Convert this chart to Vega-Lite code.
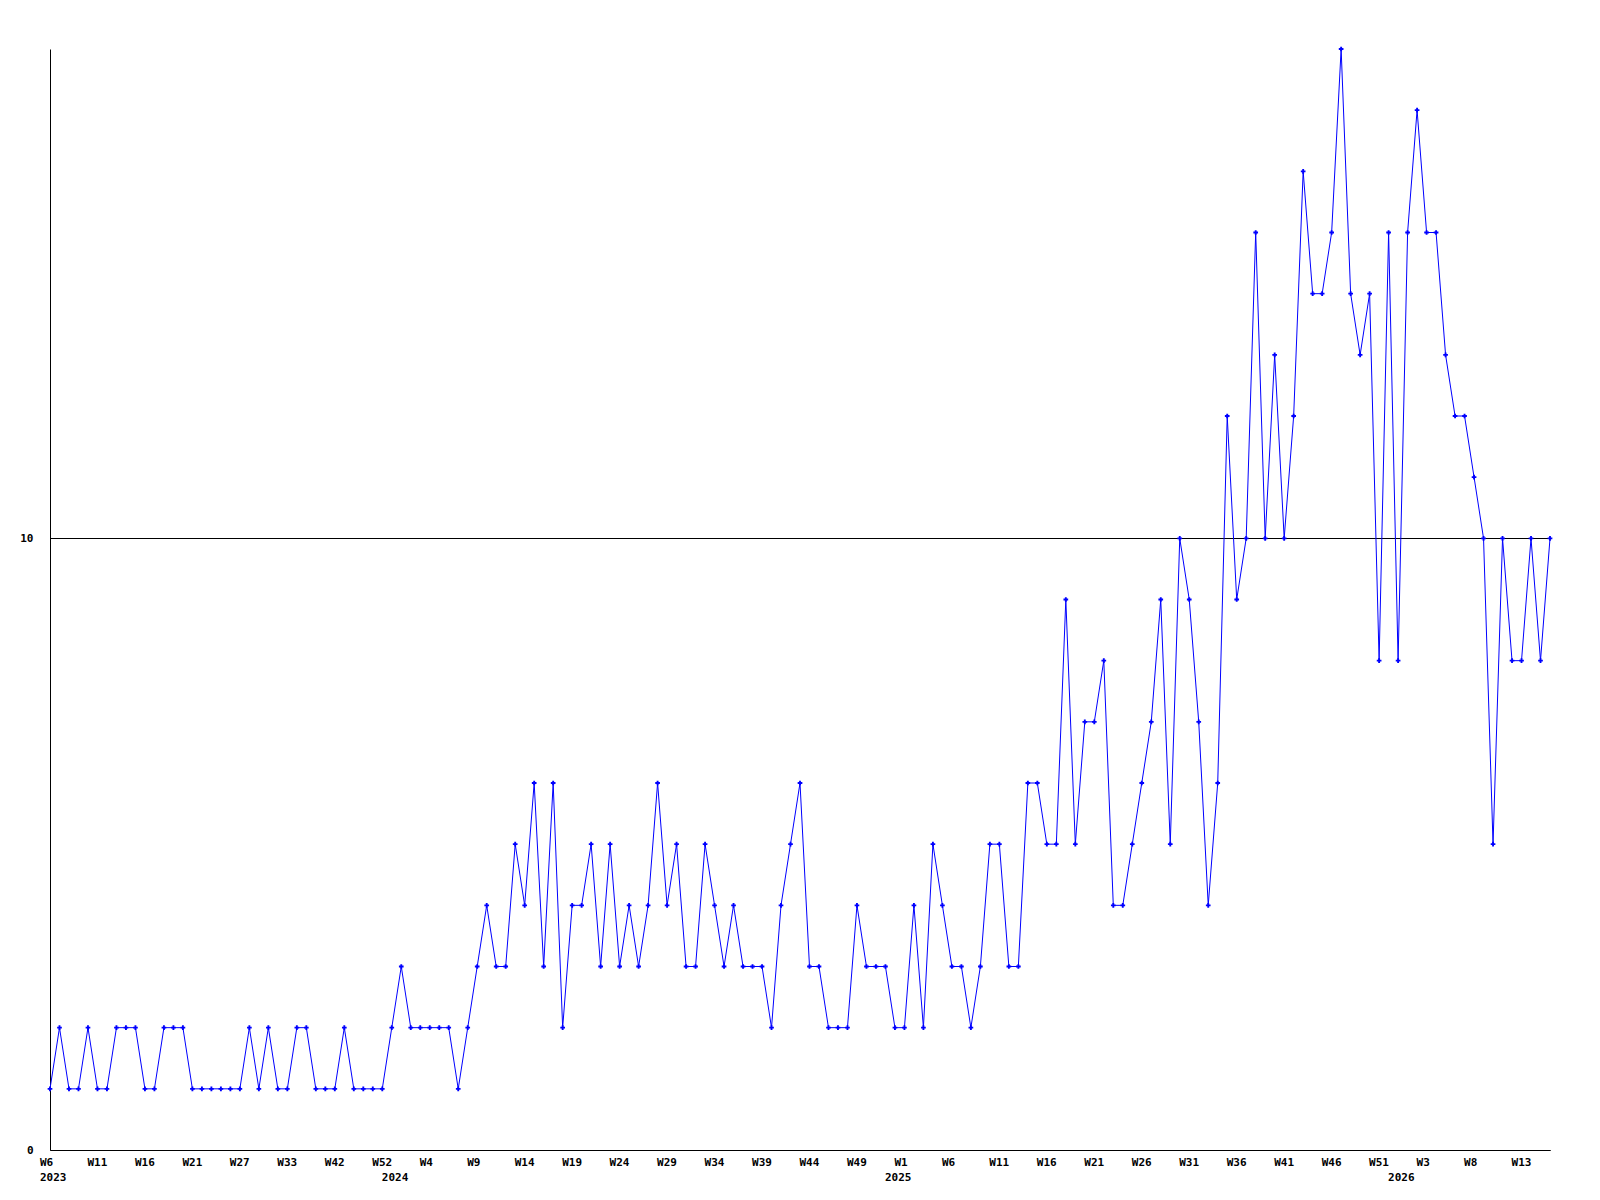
{
  "$schema": "https://vega.github.io/schema/vega-lite/v6.json",
  "width": 1500,
  "height": 1101,
  "autosize": {"type": "none"},
  "padding": {"left": 50, "top": 49, "right": 50, "bottom": 50},
  "background": "white",
  "config": {
    "view": {"stroke": null},
    "axis": {"labelFont": "DejaVu Sans Mono", "labelFontWeight": "bold", "labelFontSize": 11, "labelColor": "black", "domainColor": "black", "domainWidth": 1}
  },
  "data": {"values": [
    {"i":0,"v":1},{"i":1,"v":2},{"i":2,"v":1},{"i":3,"v":1},{"i":4,"v":2},{"i":5,"v":1},{"i":6,"v":1},{"i":7,"v":2},{"i":8,"v":2},{"i":9,"v":2},
    {"i":10,"v":1},{"i":11,"v":1},{"i":12,"v":2},{"i":13,"v":2},{"i":14,"v":2},{"i":15,"v":1},{"i":16,"v":1},{"i":17,"v":1},{"i":18,"v":1},{"i":19,"v":1},
    {"i":20,"v":1},{"i":21,"v":2},{"i":22,"v":1},{"i":23,"v":2},{"i":24,"v":1},{"i":25,"v":1},{"i":26,"v":2},{"i":27,"v":2},{"i":28,"v":1},{"i":29,"v":1},
    {"i":30,"v":1},{"i":31,"v":2},{"i":32,"v":1},{"i":33,"v":1},{"i":34,"v":1},{"i":35,"v":1},{"i":36,"v":2},{"i":37,"v":3},{"i":38,"v":2},{"i":39,"v":2},
    {"i":40,"v":2},{"i":41,"v":2},{"i":42,"v":2},{"i":43,"v":1},{"i":44,"v":2},{"i":45,"v":3},{"i":46,"v":4},{"i":47,"v":3},{"i":48,"v":3},{"i":49,"v":5},
    {"i":50,"v":4},{"i":51,"v":6},{"i":52,"v":3},{"i":53,"v":6},{"i":54,"v":2},{"i":55,"v":4},{"i":56,"v":4},{"i":57,"v":5},{"i":58,"v":3},{"i":59,"v":5},
    {"i":60,"v":3},{"i":61,"v":4},{"i":62,"v":3},{"i":63,"v":4},{"i":64,"v":6},{"i":65,"v":4},{"i":66,"v":5},{"i":67,"v":3},{"i":68,"v":3},{"i":69,"v":5},
    {"i":70,"v":4},{"i":71,"v":3},{"i":72,"v":4},{"i":73,"v":3},{"i":74,"v":3},{"i":75,"v":3},{"i":76,"v":2},{"i":77,"v":4},{"i":78,"v":5},{"i":79,"v":6},
    {"i":80,"v":3},{"i":81,"v":3},{"i":82,"v":2},{"i":83,"v":2},{"i":84,"v":2},{"i":85,"v":4},{"i":86,"v":3},{"i":87,"v":3},{"i":88,"v":3},{"i":89,"v":2},
    {"i":90,"v":2},{"i":91,"v":4},{"i":92,"v":2},{"i":93,"v":5},{"i":94,"v":4},{"i":95,"v":3},{"i":96,"v":3},{"i":97,"v":2},{"i":98,"v":3},{"i":99,"v":5},
    {"i":100,"v":5},{"i":101,"v":3},{"i":102,"v":3},{"i":103,"v":6},{"i":104,"v":6},{"i":105,"v":5},{"i":106,"v":5},{"i":107,"v":9},{"i":108,"v":5},{"i":109,"v":7},
    {"i":110,"v":7},{"i":111,"v":8},{"i":112,"v":4},{"i":113,"v":4},{"i":114,"v":5},{"i":115,"v":6},{"i":116,"v":7},{"i":117,"v":9},{"i":118,"v":5},{"i":119,"v":10},
    {"i":120,"v":9},{"i":121,"v":7},{"i":122,"v":4},{"i":123,"v":6},{"i":124,"v":12},{"i":125,"v":9},{"i":126,"v":10},{"i":127,"v":15},{"i":128,"v":10},{"i":129,"v":13},
    {"i":130,"v":10},{"i":131,"v":12},{"i":132,"v":16},{"i":133,"v":14},{"i":134,"v":14},{"i":135,"v":15},{"i":136,"v":18},{"i":137,"v":14},{"i":138,"v":13},{"i":139,"v":14},
    {"i":140,"v":8},{"i":141,"v":15},{"i":142,"v":8},{"i":143,"v":15},{"i":144,"v":17},{"i":145,"v":15},{"i":146,"v":15},{"i":147,"v":13},{"i":148,"v":12},{"i":149,"v":12},
    {"i":150,"v":11},{"i":151,"v":10},{"i":152,"v":5},{"i":153,"v":10},{"i":154,"v":8},{"i":155,"v":8},{"i":156,"v":10},{"i":157,"v":8},{"i":158,"v":10}
  ]},
  "encoding": {
    "x": {"field": "i", "type": "quantitative", "scale": {"domain": [0, 158], "nice": false, "zero": false},
      "axis": {"title": null, "grid": false, "ticks": false, "tickSize": 0, "labelPadding": 6, "labelAlign": "left", "labelOffset": -10.5, "labelBaseline": "top", "labelFlush": false, "labelOverlap": false, "labelLineHeight": 15.5, "labelBound": false,
        "values": [0,5,10,15,20,25,30,35,36,40,45,50,55,60,65,70,75,80,85,89,90,95,100,105,110,115,120,125,130,135,140,142,145,150,155],
        "labelExpr": "datum.value % 5 == 0 ? [['W6','W11','W16','W21','W27','W33','W42','W52','W4','W9','W14','W19','W24','W29','W34','W39','W44','W49','W1','W6','W11','W16','W21','W26','W31','W36','W41','W46','W51','W3','W8','W13'][datum.value / 5], datum.value == 0 ? '2023' : '\u00a0'] : ['\u00a0', datum.value == 36 ? '2024' : datum.value == 89 ? '2025' : '2026']"}},
    "y": {"field": "v", "type": "quantitative", "scale": {"domain": [0, 18], "nice": false, "zero": true},
      "axis": {"title": null, "values": [0, 10], "grid": true, "gridColor": "black", "gridOpacity": 1, "gridWidth": 1, "ticks": false, "tickSize": 0, "labelPadding": 17, "labelFlush": false}}
  },
  "layer": [
    {"mark": {"type": "line", "color": "#0000ff", "strokeWidth": 1, "interpolate": "linear"}},
    {"mark": {"type": "point", "shape": "cross", "filled": true, "color": "#0000ff", "size": 22, "opacity": 1}}
  ]
}
